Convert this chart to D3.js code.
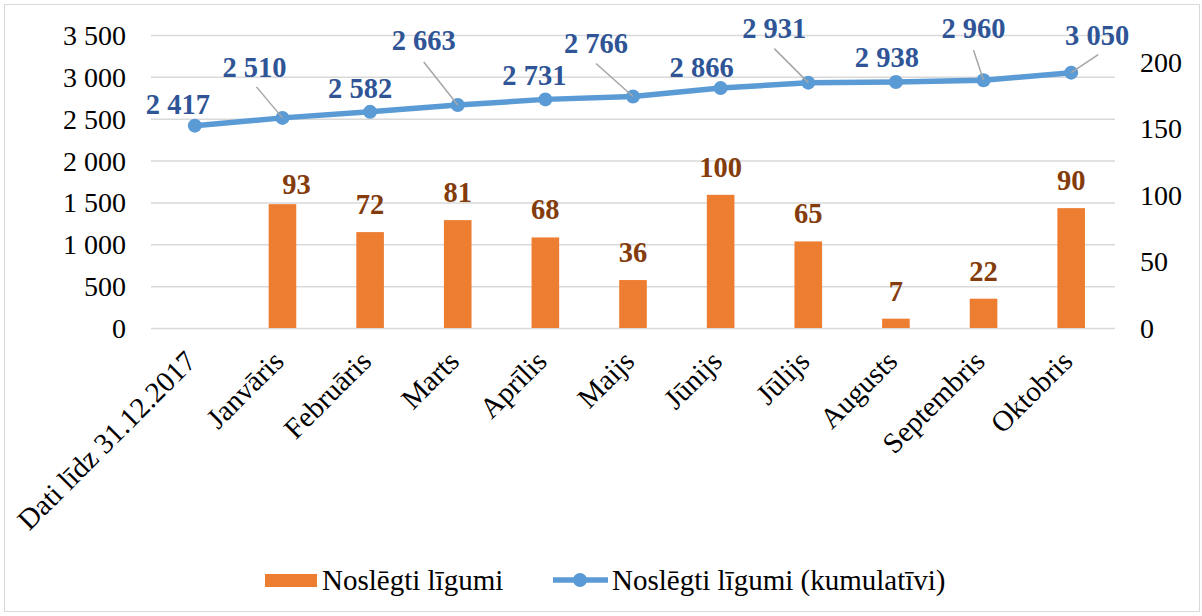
<!DOCTYPE html>
<html>
<head>
<meta charset="utf-8">
<script src="https://cdn.jsdelivr.net/npm/d3@7"></script>
<style>
  body { margin: 0; background: #fff; }
  svg { display: block; font-family: "Liberation Serif", "Times New Roman", serif; }
  .tick-label { font-size: 28px; fill: #000; }
  .cat-label { font-size: 29px; fill: #000; }
  .legend-label { font-size: 29px; fill: #000; }
  .lbl-line { font-size: 28.5px; font-weight: bold; fill: #2F5597; }
  .lbl-bar { font-size: 28.5px; font-weight: bold; fill: #843C0C; }
</style>
</head>
<body>
<div class="artboard"></div>
<script>
// chart values
var categories = ['Dati līdz 31.12.2017', 'Janvāris', 'Februāris', 'Marts', 'Aprīlis', 'Maijs',
  'Jūnijs', 'Jūlijs', 'Augusts', 'Septembris', 'Oktobris'];
var monthly = [null, 93, 72, 81, 68, 36, 100, 65, 7, 22, 90];
var cumulative = [2417, 2510, 2582, 2663, 2731, 2766, 2866, 2931, 2938, 2960, 3050];
var leftTicks = [0, 500, 1000, 1500, 2000, 2500, 3000, 3500];
var rightTicks = [0, 50, 100, 150, 200];
var seriesNames = ['Noslēgti līgumi', 'Noslēgti līgumi (kumulatīvi)'];

// label placement of the cumulative labels: [dx, dy, leader dx, leader dy] from the point
var lineLabelPos = [
  [-17, -12], [-28, -41, -26, -31], [-10, -14], [-34, -55, -34, -43], [-11, -14],
  [-37, -43, -37, -33], [-19, -11], [-34, -45, -34, -34], [-9, -15], [-10, -42, -10, -30],
  [26, -28, 27, -18]
];
// bar labels: [dx, gap above bar]
var barLabelPos = [null, [14, 10], [0, 18], [0, 18], [0, 18], [0, 18], [0, 18], [0, 18], [0, 18], [0, 18], [0, 18]];

var W = 1202, H = 616;
var plot = { left: 151, right: 1115, top: 35, bottom: 328 };

var fmt = function(v) { return d3.format(',')(v).replace(/,/g, ' '); };

var svg = d3.select('.artboard').append('svg')
  .attr('width', W).attr('height', H);

svg.append('rect')
  .attr('x', 4.5).attr('y', 4.5).attr('width', 1195).attr('height', 607)
  .attr('fill', '#fff').attr('stroke', '#d9d9d9').attr('stroke-width', 1);

var x = d3.scaleBand().domain(categories).range([plot.left, plot.right]).padding(0);
var yL = d3.scaleLinear().domain([0, 3500]).range([plot.bottom, plot.top]);
var yR = d3.scaleLinear().domain([0, 220]).range([plot.bottom, plot.top]);
var cx = function(c) { return x(c) + x.bandwidth() / 2; };

// gridlines + left axis
var axisL = svg.append('g')
  .attr('transform', 'translate(' + plot.left + ',0)')
  .call(d3.axisLeft(yL).tickValues(leftTicks).tickFormat(fmt)
    .tickSizeInner(-(plot.right - plot.left)).tickSizeOuter(0).tickPadding(25))
  .attr('font-family', null).attr('font-size', null);
axisL.select('.domain').remove();
axisL.selectAll('line').attr('stroke', '#d9d9d9').attr('stroke-width', 1.5);
axisL.selectAll('text').attr('class', 'tick-label').attr('dy', '0.34em');

// right axis
var axisR = svg.append('g')
  .attr('transform', 'translate(' + plot.right + ',0)')
  .call(d3.axisRight(yR).tickValues(rightTicks).tickSize(0).tickPadding(25))
  .attr('font-family', null).attr('font-size', null);
axisR.select('.domain').remove();
axisR.selectAll('text').attr('class', 'tick-label').attr('dy', '0.34em');

// category labels
svg.append('g').selectAll('text')
  .data(categories)
  .join('text')
  .attr('class', 'cat-label')
  .attr('text-anchor', 'end')
  .attr('transform', function(d) {
    return 'translate(' + (cx(d) + 3) + ',' + 363 + ') rotate(-45)';
  })
  .text(function(d) { return d; });

// bars
var barW = x.bandwidth() * 0.315;
var barData = categories.map(function(c, i) { return { c: c, v: monthly[i], o: barLabelPos[i] }; })
  .filter(function(d) { return d.v !== null; });

svg.append('g').selectAll('rect')
  .data(barData)
  .join('rect')
  .attr('x', function(d) { return cx(d.c) - barW / 2; })
  .attr('y', function(d) { return yR(d.v); })
  .attr('width', barW)
  .attr('height', function(d) { return yR(0) - yR(d.v); })
  .attr('fill', '#ED7D31');

svg.append('g').selectAll('text')
  .data(barData)
  .join('text')
  .attr('class', 'lbl-bar')
  .attr('text-anchor', 'middle')
  .attr('x', function(d) { return cx(d.c) + d.o[0]; })
  .attr('y', function(d) { return yR(d.v) - d.o[1]; })
  .text(function(d) { return d.v; });

// cumulative line
var lineData = categories.map(function(c, i) { return { c: c, v: cumulative[i], o: lineLabelPos[i] }; });

svg.append('path')
  .datum(lineData)
  .attr('fill', 'none')
  .attr('stroke', '#5B9BD5')
  .attr('stroke-width', 5.5)
  .attr('stroke-linejoin', 'round')
  .attr('d', d3.line().x(function(d) { return cx(d.c); }).y(function(d) { return yL(d.v); }));

svg.append('g').selectAll('circle')
  .data(lineData)
  .join('circle')
  .attr('cx', function(d) { return cx(d.c); })
  .attr('cy', function(d) { return yL(d.v); })
  .attr('r', 7)
  .attr('fill', '#5B9BD5');

// leader lines
svg.append('g').selectAll('line')
  .data(lineData.filter(function(d) { return d.o.length > 2; }))
  .join('line')
  .attr('x1', function(d) { return cx(d.c) + d.o[2]; })
  .attr('y1', function(d) { return yL(d.v) + d.o[3]; })
  .attr('x2', function(d) { return cx(d.c); })
  .attr('y2', function(d) { return yL(d.v); })
  .attr('stroke', '#a6a6a6').attr('stroke-width', 1.5);

svg.append('g').selectAll('text')
  .data(lineData)
  .join('text')
  .attr('class', 'lbl-line')
  .attr('text-anchor', 'middle')
  .attr('x', function(d) { return cx(d.c) + d.o[0]; })
  .attr('y', function(d) { return yL(d.v) + d.o[1]; })
  .text(function(d) { return fmt(d.v); });

// legend
var lg = svg.append('g');
lg.append('rect').attr('x', 265).attr('y', 574).attr('width', 52).attr('height', 13).attr('fill', '#ED7D31');
lg.append('text').attr('class', 'legend-label').attr('x', 322).attr('y', 590).text(seriesNames[0]);
lg.append('line').attr('x1', 553).attr('x2', 608).attr('y1', 580).attr('y2', 580)
  .attr('stroke', '#5B9BD5').attr('stroke-width', 5.5);
lg.append('circle').attr('cx', 580).attr('cy', 580).attr('r', 7).attr('fill', '#5B9BD5');
lg.append('text').attr('class', 'legend-label').attr('x', 612).attr('y', 590).text(seriesNames[1]);
</script>
</body>
</html>
